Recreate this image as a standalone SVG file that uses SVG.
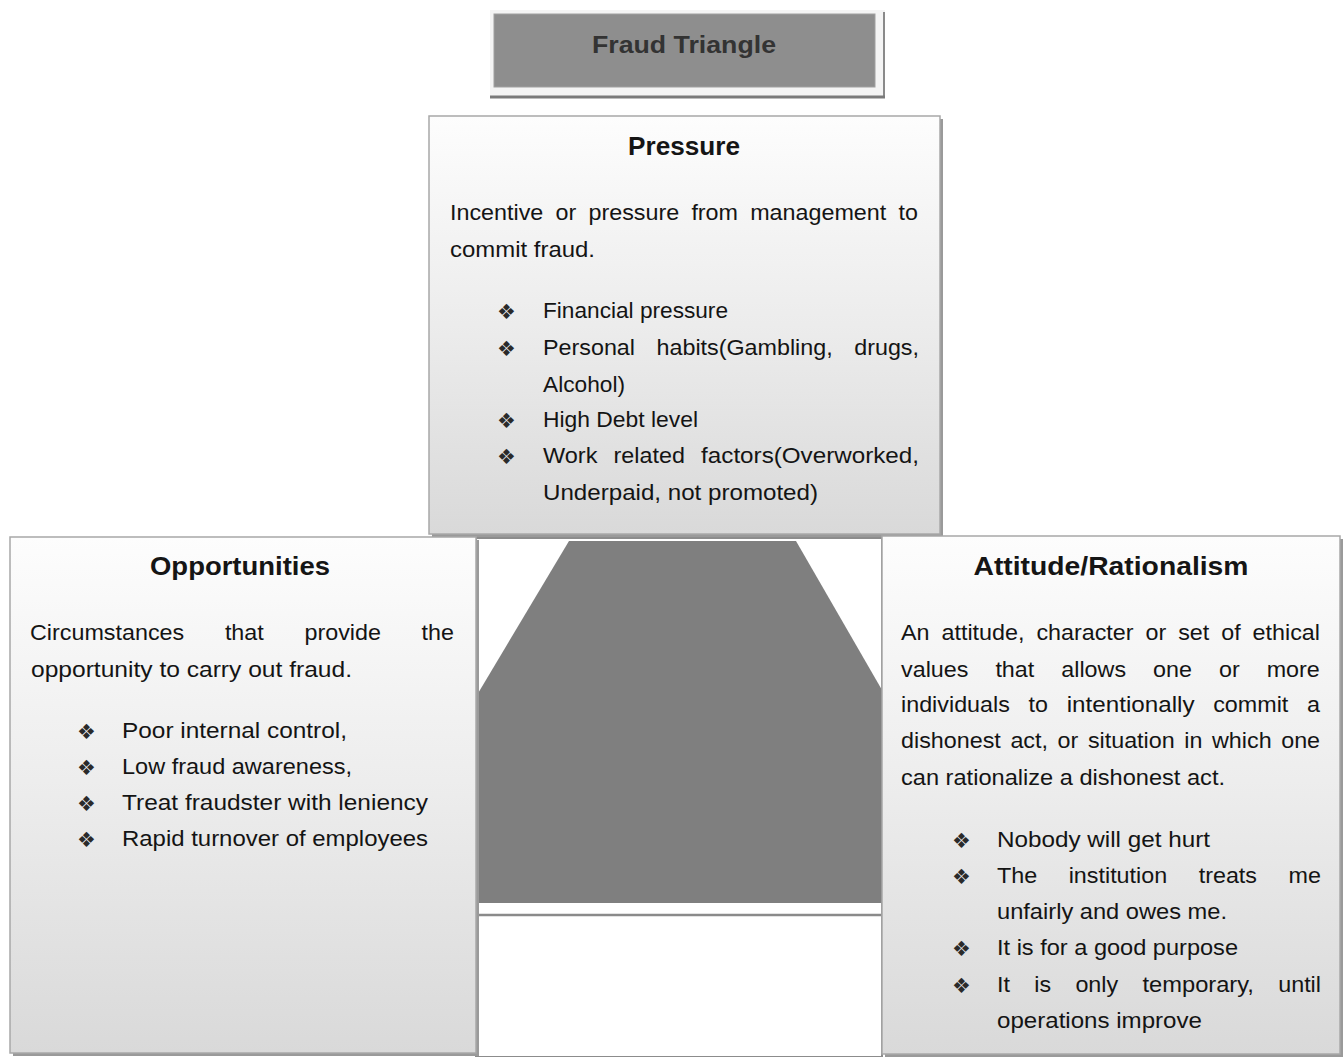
<svg xmlns="http://www.w3.org/2000/svg" width="1343" height="1057" viewBox="0 0 1343 1057">
<defs>
<linearGradient id="boxg" x1="0" y1="0" x2="0" y2="1">
<stop offset="0" stop-color="#fdfdfd"/>
<stop offset="0.5" stop-color="#ececec"/>
<stop offset="1" stop-color="#d9d9d9"/>
</linearGradient>
<style>
.box{fill:url(#boxg);stroke:#a8a8a8;stroke-width:1.5}
.shadow{fill:#9a9a9a}
.ttl{font-family:"Liberation Sans",Arial,sans-serif;font-weight:bold;font-size:26px;fill:#151515;text-anchor:middle}
.tx{font-family:"Liberation Sans",Arial,sans-serif;font-size:22px;fill:#141414}
.bu{font-family:"DejaVu Sans",sans-serif;font-size:21px;fill:#2a2a2a}
</style>
</defs>
<rect width="1343" height="1057" fill="#ffffff"/>

<g id="center-shape">
<rect x="476" y="538" width="406" height="519" fill="#ffffff" stroke="#8c8c8c" stroke-width="2"/>
<polygon points="569,541 796,541 882,690 882,903 477,903 477,695" fill="#7f7f7f"/>
<line x1="477" y1="915" x2="882" y2="915" stroke="#8a8a8a" stroke-width="2.5"/>
</g>

<g id="title">
<rect x="490" y="10" width="395" height="88" fill="#f4f4f4"/>
<line x1="884" y1="12" x2="884" y2="97" stroke="#8a8a8a" stroke-width="2"/>
<line x1="490" y1="97" x2="885" y2="97" stroke="#7a7a7a" stroke-width="3"/>
<rect x="494" y="14" width="381" height="73" fill="#8e8e8e" stroke="#a0a0a0" stroke-width="1"/>
<text x="684" y="53" class="ttl" style="font-size:24px;fill:#333333" textLength="184" lengthAdjust="spacingAndGlyphs">Fraud Triangle</text>
</g>

<g id="pressure">
<rect x="432" y="119" width="511" height="418" class="shadow"/>
<rect x="429" y="116" width="511" height="418" class="box"/>
<text x="684" y="155" class="ttl" textLength="112" lengthAdjust="spacingAndGlyphs">Pressure</text>
<g class="tx">
<text x="450" y="220" textLength="93.3" lengthAdjust="spacingAndGlyphs">Incentive</text>
<text x="555.5" y="220" textLength="20.7" lengthAdjust="spacingAndGlyphs">or</text>
<text x="588.5" y="220" textLength="90.7" lengthAdjust="spacingAndGlyphs">pressure</text>
<text x="691.4" y="220" textLength="46.6" lengthAdjust="spacingAndGlyphs">from</text>
<text x="750.2" y="220" textLength="136.1" lengthAdjust="spacingAndGlyphs">management</text>
<text x="898.6" y="220" textLength="19.4" lengthAdjust="spacingAndGlyphs">to</text>
</g>
<text x="450" y="257" class="tx" textLength="145" lengthAdjust="spacingAndGlyphs">commit fraud.</text>
<text x="497" y="319" class="bu">❖</text>
<text x="543" y="318" class="tx" textLength="185" lengthAdjust="spacingAndGlyphs">Financial pressure</text>
<text x="497" y="356" class="bu">❖</text>
<g class="tx">
<text x="543" y="355" textLength="92" lengthAdjust="spacingAndGlyphs">Personal</text>
<text x="656.5" y="355" textLength="176.2" lengthAdjust="spacingAndGlyphs">habits(Gambling,</text>
<text x="854.2" y="355" textLength="64.8" lengthAdjust="spacingAndGlyphs">drugs,</text>
</g>
<text x="543" y="392" class="tx" textLength="82" lengthAdjust="spacingAndGlyphs">Alcohol)</text>
<text x="497" y="428" class="bu">❖</text>
<text x="543" y="427" class="tx" textLength="155" lengthAdjust="spacingAndGlyphs">High Debt level</text>
<text x="497" y="464" class="bu">❖</text>
<g class="tx">
<text x="543" y="463" textLength="54.4" lengthAdjust="spacingAndGlyphs">Work</text>
<text x="613.6" y="463" textLength="71.3" lengthAdjust="spacingAndGlyphs">related</text>
<text x="701.1" y="463" textLength="217.9" lengthAdjust="spacingAndGlyphs">factors(Overworked,</text>
</g>
<text x="543" y="500" class="tx" textLength="275" lengthAdjust="spacingAndGlyphs">Underpaid, not promoted)</text>
</g>

<g id="opportunities">
<rect x="13" y="540" width="466" height="516" class="shadow"/>
<rect x="10" y="537" width="466" height="516" class="box"/>
<text x="240" y="575" class="ttl" textLength="180" lengthAdjust="spacingAndGlyphs">Opportunities</text>
<g class="tx">
<text x="30" y="640" textLength="154.2" lengthAdjust="spacingAndGlyphs">Circumstances</text>
<text x="224.9" y="640" textLength="38.9" lengthAdjust="spacingAndGlyphs">that</text>
<text x="304.5" y="640" textLength="76.5" lengthAdjust="spacingAndGlyphs">provide</text>
<text x="421.6" y="640" textLength="32.4" lengthAdjust="spacingAndGlyphs">the</text>
</g>
<text x="31" y="677" class="tx" textLength="321" lengthAdjust="spacingAndGlyphs">opportunity to carry out fraud.</text>
<text x="77" y="739" class="bu">❖</text>
<text x="122" y="738" class="tx" textLength="225" lengthAdjust="spacingAndGlyphs">Poor internal control,</text>
<text x="77" y="775" class="bu">❖</text>
<text x="122" y="774" class="tx" textLength="230" lengthAdjust="spacingAndGlyphs">Low fraud awareness,</text>
<text x="77" y="811" class="bu">❖</text>
<text x="122" y="810" class="tx" textLength="306" lengthAdjust="spacingAndGlyphs">Treat fraudster with leniency</text>
<text x="77" y="847" class="bu">❖</text>
<text x="122" y="846" class="tx" textLength="306" lengthAdjust="spacingAndGlyphs">Rapid turnover of employees</text>
</g>

<g id="attitude">
<rect x="885" y="539" width="458" height="518" class="shadow"/>
<rect x="882" y="536" width="458" height="518" class="box"/>
<text x="1111" y="575" class="ttl" textLength="275" lengthAdjust="spacingAndGlyphs">Attitude/Rationalism</text>
<g class="tx">
<text x="901" y="640" textLength="28.5" lengthAdjust="spacingAndGlyphs">An</text>
<text x="941.5" y="640" textLength="83" lengthAdjust="spacingAndGlyphs">attitude,</text>
<text x="1036.4" y="640" textLength="97.2" lengthAdjust="spacingAndGlyphs">character</text>
<text x="1145.6" y="640" textLength="20.7" lengthAdjust="spacingAndGlyphs">or</text>
<text x="1178.2" y="640" textLength="31.1" lengthAdjust="spacingAndGlyphs">set</text>
<text x="1221.3" y="640" textLength="19.4" lengthAdjust="spacingAndGlyphs">of</text>
<text x="1252.6" y="640" textLength="67.4" lengthAdjust="spacingAndGlyphs">ethical</text>

<text x="901" y="677" textLength="67.4" lengthAdjust="spacingAndGlyphs">values</text>
<text x="995.4" y="677" textLength="38.9" lengthAdjust="spacingAndGlyphs">that</text>
<text x="1061.3" y="677" textLength="64.8" lengthAdjust="spacingAndGlyphs">allows</text>
<text x="1153.1" y="677" textLength="38.9" lengthAdjust="spacingAndGlyphs">one</text>
<text x="1219" y="677" textLength="20.7" lengthAdjust="spacingAndGlyphs">or</text>
<text x="1266.7" y="677" textLength="53.1" lengthAdjust="spacingAndGlyphs">more</text>

<text x="901" y="712" textLength="108.9" lengthAdjust="spacingAndGlyphs">individuals</text>
<text x="1028.6" y="712" textLength="19.4" lengthAdjust="spacingAndGlyphs">to</text>
<text x="1066.7" y="712" textLength="127.8" lengthAdjust="spacingAndGlyphs">intentionally</text>
<text x="1213.2" y="712" textLength="75.1" lengthAdjust="spacingAndGlyphs">commit</text>
<text x="1307" y="712" textLength="13" lengthAdjust="spacingAndGlyphs">a</text>

<text x="901" y="748" textLength="99.8" lengthAdjust="spacingAndGlyphs">dishonest</text>
<text x="1010.4" y="748" textLength="37.6" lengthAdjust="spacingAndGlyphs">act,</text>
<text x="1057.6" y="748" textLength="20.7" lengthAdjust="spacingAndGlyphs">or</text>
<text x="1087.9" y="748" textLength="86.8" lengthAdjust="spacingAndGlyphs">situation</text>
<text x="1184.3" y="748" textLength="18.1" lengthAdjust="spacingAndGlyphs">in</text>
<text x="1212" y="748" textLength="59.6" lengthAdjust="spacingAndGlyphs">which</text>
<text x="1281.2" y="748" textLength="38.9" lengthAdjust="spacingAndGlyphs">one</text>
</g>
<text x="901" y="785" class="tx" textLength="324" lengthAdjust="spacingAndGlyphs">can rationalize a dishonest act.</text>
<text x="952" y="848" class="bu">❖</text>
<text x="997" y="847" class="tx" textLength="213" lengthAdjust="spacingAndGlyphs">Nobody will get hurt</text>
<text x="952" y="884" class="bu">❖</text>
<g class="tx">
<text x="997" y="883" textLength="40.2" lengthAdjust="spacingAndGlyphs">The</text>
<text x="1068.7" y="883" textLength="98.5" lengthAdjust="spacingAndGlyphs">institution</text>
<text x="1198.7" y="883" textLength="58.3" lengthAdjust="spacingAndGlyphs">treats</text>
<text x="1288.5" y="883" textLength="32.4" lengthAdjust="spacingAndGlyphs">me</text>
</g>
<text x="997" y="919" class="tx" textLength="230" lengthAdjust="spacingAndGlyphs">unfairly and owes me.</text>
<text x="952" y="956" class="bu">❖</text>
<text x="997" y="955" class="tx" textLength="241" lengthAdjust="spacingAndGlyphs">It is for a good purpose</text>
<text x="952" y="993" class="bu">❖</text>
<g class="tx">
<text x="997" y="992" textLength="13" lengthAdjust="spacingAndGlyphs">It</text>
<text x="1034.3" y="992" textLength="16.8" lengthAdjust="spacingAndGlyphs">is</text>
<text x="1075.4" y="992" textLength="42.8" lengthAdjust="spacingAndGlyphs">only</text>
<text x="1142.5" y="992" textLength="111.4" lengthAdjust="spacingAndGlyphs">temporary,</text>
<text x="1278.2" y="992" textLength="42.8" lengthAdjust="spacingAndGlyphs">until</text>
</g>
<text x="997" y="1028" class="tx" textLength="205" lengthAdjust="spacingAndGlyphs">operations improve</text>
</g>

<g id="connectors"></g>
</svg>
